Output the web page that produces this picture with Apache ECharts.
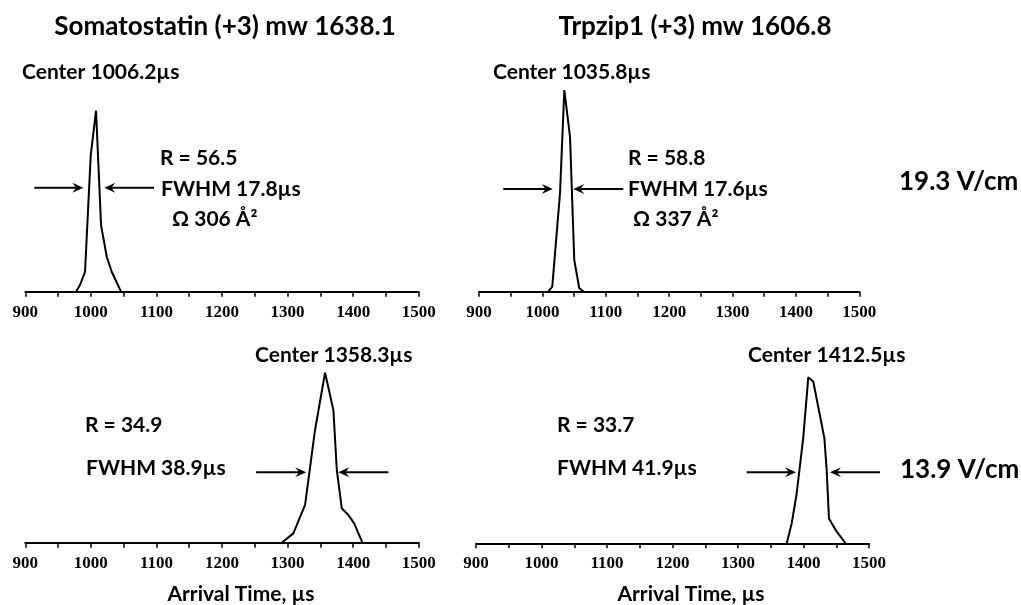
<!DOCTYPE html>
<html lang="en">
<head>
    <meta charset="UTF-8">
    <title>Arrival time distributions</title>
    <style>
        html, body { margin: 0; padding: 0; background: #fff; }
        #main { width: 1021px; height: 605px; }
    </style>
</head>
<body>
    <div id="main"></div>
    <script src="https://cdn.jsdelivr.net/npm/echarts@6/dist/echarts.min.js"></script>
    <script>
        var somaHighTime = [977.3, 983.4, 991.1, 999.8, 1007.9, 1015.5, 1024.2, 1031.8, 1046.0];
        var somaHighSignal = [0, 3.7, 11, 75.5, 100, 36.8, 19.3, 11, 0];
        var trpHighTime = [1009.3, 1015.6, 1027.8, 1034.6, 1043.6, 1050.3, 1058.2, 1065.6];
        var trpHighSignal = [0, 2.5, 48.8, 100, 76.8, 15.7, 1.7, 0];
        var somaLowTime = [1291.1, 1308.8, 1326.7, 1341.9, 1357.2, 1369.9, 1375.1, 1382.7, 1392.8, 1401.5, 1414.2];
        var somaLowSignal = [0, 5.5, 22.2, 66.3, 100, 78, 42.8, 20.2, 16.3, 11.4, 0];
        var trpLowTime = [1374.4, 1382.0, 1389.6, 1399.7, 1407.3, 1415.0, 1431.9, 1435.4, 1438.9, 1450.7, 1464.4];
        var trpLowSignal = [0, 12, 30, 64, 100, 97.3, 63.3, 44, 15, 7, 0];

        // FWHM arrows: [from, to, level]
        var somaHighArrows = [[913.7, 988.5, 57.5], [1096.3, 1020.5, 57.5]];
        var trpHighArrows = [[938.3, 1016.3, 50.9], [1127.6, 1048.8, 50.9]];
        var somaLowArrows = [[1252, 1328.3, 41.4], [1453.8, 1377.5, 41.4]];
        var trpLowArrows = [[1313.3, 1388.5, 42.8], [1516.8, 1440.5, 42.8]];

        var tickMin = 900, tickMax = 1500, tickStep = 100;

        var sans = 'Lato, "Open Sans", sans-serif';

        function pairs(xs, ys) {
            return xs.map(function (x, i) { return [x, ys[i]]; });
        }

        function xAxisFor(idx) {
            return {
                type: 'value', gridIndex: idx,
                min: tickMin, max: tickMax, interval: tickStep,
                axisLine: { show: true, lineStyle: { color: '#000', width: 2 } },
                axisTick: { show: true, length: 5, lineStyle: { color: '#000', width: 1.5 } },
                minorTick: { show: true, splitNumber: 2, length: 5, lineStyle: { color: '#000', width: 1.5 } },
                splitLine: { show: false },
                axisLabel: {
                    color: '#000', fontFamily: '"Liberation Serif", serif',
                    fontWeight: 'bold', fontSize: 17, margin: 12,
                    formatter: function (v) { return String(v); }
                }
            };
        }

        function yAxisFor(idx) {
            return { type: 'value', gridIndex: idx, min: 0, max: 100, show: false };
        }

        function seriesFor(idx, xs, ys) {
            return {
                type: 'line', xAxisIndex: idx, yAxisIndex: idx,
                data: pairs(xs, ys),
                showSymbol: false, clip: false,
                lineStyle: { color: '#000', width: 2 },
                animation: false
            };
        }

        function txt(s, x, y, size, align) {
            return {
                type: 'text', silent: true,
                style: {
                    text: s, x: x, y: y, fill: '#000',
                    font: 'bold ' + size + 'px ' + sans,
                    align: align || 'left', verticalAlign: 'middle'
                }
            };
        }

        var myChart = echarts.init(document.getElementById('main'));
        var option = {
            backgroundColor: '#fff',
            animation: false,
            grid: [
                { left: 25.3, top: 110.7, width: 393.4, height: 181 },
                { left: 479, top: 90, width: 380.3, height: 201.7 },
                { left: 25.3, top: 372.7, width: 393.4, height: 170 },
                { left: 476, top: 377.3, width: 393, height: 166 }
            ],
            xAxis: [xAxisFor(0), xAxisFor(1), xAxisFor(2), xAxisFor(3)],
            yAxis: [yAxisFor(0), yAxisFor(1), yAxisFor(2), yAxisFor(3)],
            series: [
                seriesFor(0, somaHighTime, somaHighSignal),
                seriesFor(1, trpHighTime, trpHighSignal),
                seriesFor(2, somaLowTime, somaLowSignal),
                seriesFor(3, trpLowTime, trpLowSignal)
            ]
        };
        myChart.setOption(option);

        // arrows are placed through each grid's own scales
        function arrowGraphics(gridIdx, list) {
            var out = [];
            list.forEach(function (a) {
                var p0 = myChart.convertToPixel({ gridIndex: gridIdx }, [a[0], a[2]]);
                var p1 = myChart.convertToPixel({ gridIndex: gridIdx }, [a[1], a[2]]);
                var d = p1[0] > p0[0] ? 1 : -1;
                var y = p0[1];
                out.push({
                    type: 'line', silent: true,
                    shape: { x1: p0[0], y1: y, x2: p1[0] - d * 6, y2: y },
                    style: { stroke: '#000', lineWidth: 2 }
                });
                out.push({
                    type: 'polygon', silent: true,
                    shape: { points: [[p1[0], y], [p1[0] - d * 11, y - 5], [p1[0] - d * 7, y], [p1[0] - d * 11, y + 5]] },
                    style: { fill: '#000' }
                });
            });
            return out;
        }

        var texts = [
            txt('Somatostatin (+3) mw 1638.1', 225, 27, 26, 'center'),
            txt('Trpzip1 (+3) mw 1606.8', 695, 27, 26, 'center'),
            txt('Center 1006.2\u00b5s', 22, 72, 21),
            txt('R = 56.5', 160, 158, 21),
            txt('FWHM 17.8\u00b5s', 161, 189, 21),
            txt('\u03a9 306 \u00c5\u00b2', 172, 219, 21),
            txt('Center 1035.8\u00b5s', 493, 72, 21),
            txt('R = 58.8', 628, 158, 21),
            txt('FWHM 17.6\u00b5s', 628, 189, 21),
            txt('\u03a9 337 \u00c5\u00b2', 633, 219, 21),
            txt('19.3 V/cm', 899, 182, 26),
            txt('Center 1358.3\u00b5s', 255, 355, 21),
            txt('R = 34.9', 85, 425, 21),
            txt('FWHM 38.9\u00b5s', 86, 468, 21),
            txt('Center 1412.5\u00b5s', 748, 355, 21),
            txt('R = 33.7', 557, 425, 21),
            txt('FWHM 41.9\u00b5s', 557, 468, 21),
            txt('13.9 V/cm', 900, 470, 26),
            txt('Arrival Time, \u00b5s', 241, 594, 21, 'center'),
            txt('Arrival Time, \u00b5s', 691, 594, 21, 'center')
        ];

        myChart.setOption({
            graphic: texts
                .concat(arrowGraphics(0, somaHighArrows))
                .concat(arrowGraphics(1, trpHighArrows))
                .concat(arrowGraphics(2, somaLowArrows))
                .concat(arrowGraphics(3, trpLowArrows))
        });
    </script>
</body>
</html>
